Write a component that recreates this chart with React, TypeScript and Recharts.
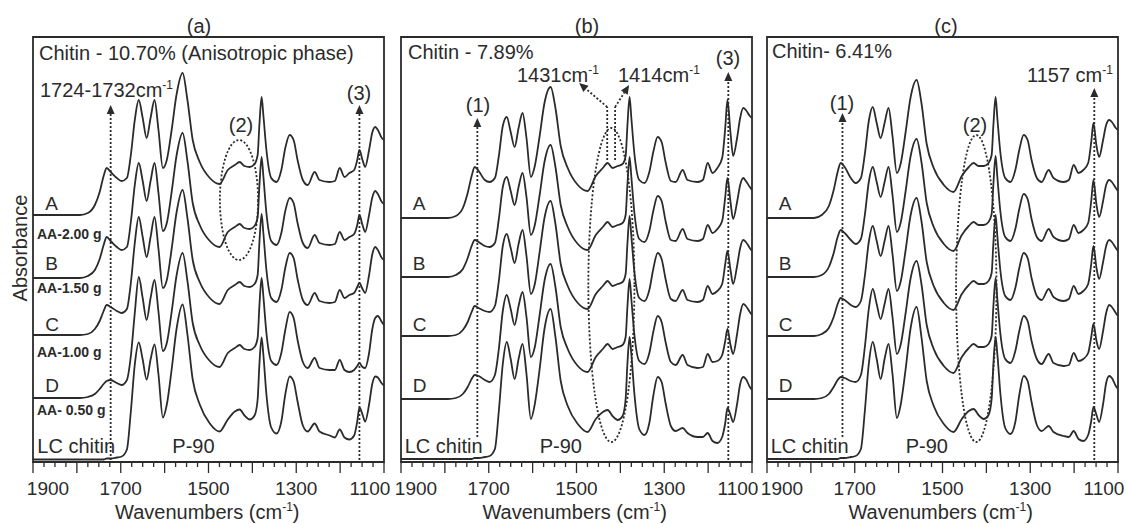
import { Line, LineChart, ReferenceArea, ReferenceLine, XAxis, YAxis } from "recharts"

// FTIR spectra of LC chitin films, three chitin loadings, stacked A-D + LC chitin
const WAVENUMBERS = [
  1900, 1793, 1775, 1759, 1748, 1739, 1732, 1723, 1709, 1698,
  1686, 1677, 1668, 1659, 1650, 1641, 1632, 1623, 1614, 1604,
  1595, 1584, 1573, 1559, 1548, 1536, 1520, 1497, 1475, 1456,
  1440, 1429, 1418, 1406, 1395, 1388, 1384, 1379, 1375, 1368,
  1357, 1345, 1334, 1325, 1315, 1306, 1297, 1285, 1274, 1258,
  1247, 1224, 1212, 1201, 1190, 1179, 1168, 1161, 1156, 1149,
  1143, 1134, 1127, 1120, 1114, 1105, 1100,
]

const ROW_KEYS = ["A", "B", "C", "D", "LC"]

// panel (a) chitin 10.70 %
const A_10 = [0, 0, 2, 10, 23, 39, 47, 43, 37, 34, 37, 60, 95, 115, 97, 77, 97, 115, 85, 47, 55, 85, 120, 142, 115, 75, 53, 37, 31, 45, 50, 53, 49, 48, 51, 60, 90, 118, 100, 65, 37, 33, 45, 67, 80, 75, 55, 35, 30, 43, 35, 33, 34, 47, 38, 42, 45, 55, 65, 55, 48, 65, 82, 88, 85, 77, 75]
const B_10 = [0, 0, 2, 8, 19, 33, 41, 37, 31, 28, 31, 56, 93, 115, 97, 77, 97, 115, 85, 47, 55, 86, 122, 145, 117, 75, 53, 37, 31, 46, 51, 54, 50, 49, 52, 61, 92, 121, 102, 65, 37, 33, 45, 67, 80, 75, 55, 35, 30, 43, 35, 33, 34, 46, 38, 41, 44, 53, 63, 53, 46, 63, 80, 87, 84, 76, 74]
const C_10 = [0, 0, 1, 6, 14, 24, 30, 28, 24, 22, 26, 52, 92, 118, 98, 78, 98, 118, 86, 47, 55, 86, 122, 145, 117, 75, 53, 37, 31, 45, 50, 53, 49, 48, 51, 60, 92, 121, 102, 65, 37, 33, 45, 67, 82, 77, 56, 35, 30, 42, 34, 32, 33, 45, 37, 40, 42, 48, 52, 46, 42, 60, 80, 88, 85, 77, 75]
const D_10 = [0, 0, 1, 4, 9, 14, 17, 18, 15, 13, 18, 42, 85, 121, 100, 78, 100, 118, 86, 47, 55, 86, 122, 145, 117, 75, 53, 37, 31, 45, 50, 53, 49, 48, 51, 60, 92, 120, 102, 65, 37, 33, 45, 68, 86, 80, 58, 36, 30, 40, 30, 28, 28, 38, 28, 26, 28, 32, 35, 31, 30, 45, 68, 80, 82, 76, 73]
const LC_10 = [0, 0, 0, 0, 0, 0, 1, 1, 2, 3, 10, 48, 95, 117, 100, 80, 100, 115, 85, 42, 55, 90, 130, 155, 125, 80, 55, 36, 28, 40, 48, 50, 44, 40, 44, 60, 95, 122, 105, 65, 32, 26, 38, 65, 83, 78, 58, 34, 28, 36, 28, 24, 22, 30, 22, 20, 24, 38, 52, 45, 38, 55, 75, 83, 82, 76, 74]

// panel (b) chitin 7.89 %
const A_789 = [0, 0, 2, 10, 25, 42, 51, 47, 38, 36, 40, 62, 92, 101, 86, 71, 90, 105, 80, 41, 52, 82, 115, 131, 110, 72, 50, 33, 27, 42, 50, 55, 50, 52, 54, 62, 92, 121, 100, 64, 38, 35, 46, 66, 81, 76, 56, 37, 36, 48, 38, 36, 38, 55, 45, 50, 60, 90, 118, 85, 62, 80, 100, 110, 108, 102, 100]
const B_789 = [0, 0, 2, 8, 19, 31, 37, 35, 31, 30, 34, 58, 90, 100, 86, 72, 90, 104, 80, 42, 52, 82, 115, 132, 110, 72, 50, 33, 27, 42, 50, 55, 50, 52, 54, 62, 92, 120, 100, 64, 38, 35, 46, 66, 81, 76, 56, 37, 36, 48, 38, 36, 38, 52, 44, 48, 56, 80, 99, 75, 58, 75, 92, 99, 96, 90, 87]
const C_789 = [0, 0, 1, 6, 14, 24, 30, 28, 25, 24, 30, 55, 90, 102, 88, 73, 92, 106, 80, 42, 52, 84, 118, 135, 112, 72, 50, 33, 27, 42, 50, 55, 50, 52, 54, 62, 92, 120, 100, 64, 38, 35, 46, 67, 83, 77, 57, 37, 35, 46, 36, 34, 36, 50, 42, 45, 52, 72, 85, 66, 52, 70, 88, 96, 94, 88, 85]
const D_789 = [0, 0, 1, 5, 12, 20, 24, 23, 19, 17, 24, 50, 88, 104, 90, 74, 93, 107, 82, 42, 52, 84, 118, 135, 112, 72, 50, 33, 27, 42, 50, 55, 50, 52, 54, 62, 92, 120, 100, 64, 38, 35, 46, 67, 83, 77, 57, 37, 34, 44, 34, 31, 32, 45, 37, 38, 44, 58, 70, 54, 45, 65, 85, 95, 93, 87, 84]
const LC_789 = [0, 0, 0, 0, 0, 0, 1, 1, 2, 3, 10, 48, 95, 117, 100, 80, 100, 115, 85, 40, 55, 90, 130, 150, 122, 78, 53, 35, 27, 40, 47, 49, 43, 39, 43, 60, 95, 122, 105, 65, 30, 24, 36, 63, 82, 77, 56, 33, 28, 31, 26, 22, 22, 26, 18, 16, 22, 36, 51, 44, 37, 55, 75, 82, 80, 72, 69]

// panel (c) chitin 6.41 %
const A_641 = [0, 0, 3, 12, 28, 46, 55, 51, 40, 35, 40, 64, 97, 111, 95, 80, 95, 110, 82, 45, 55, 86, 120, 138, 115, 74, 50, 33, 26, 42, 51, 55, 52, 52, 55, 63, 93, 121, 100, 65, 40, 36, 48, 68, 83, 78, 58, 40, 36, 48, 40, 36, 38, 53, 45, 48, 55, 76, 95, 72, 61, 78, 93, 98, 96, 90, 88]
const B_641 = [0, 0, 2, 10, 24, 40, 47, 44, 37, 33, 38, 62, 95, 110, 95, 80, 95, 110, 82, 45, 55, 86, 120, 138, 115, 74, 50, 33, 26, 42, 51, 55, 52, 52, 55, 63, 93, 121, 100, 65, 40, 36, 48, 68, 83, 78, 58, 40, 36, 48, 40, 36, 38, 52, 44, 47, 54, 76, 97, 72, 60, 76, 92, 97, 95, 89, 86]
const C_641 = [0, 0, 2, 8, 19, 32, 38, 36, 31, 29, 35, 60, 94, 110, 95, 80, 95, 110, 82, 45, 55, 86, 120, 138, 115, 74, 50, 33, 26, 42, 51, 55, 52, 52, 55, 63, 93, 121, 100, 65, 40, 36, 48, 68, 83, 78, 58, 40, 36, 47, 39, 35, 37, 50, 42, 45, 52, 72, 90, 68, 57, 74, 90, 96, 94, 88, 85]
const D_641 = [0, 0, 1, 5, 12, 19, 22, 21, 18, 17, 24, 52, 90, 110, 95, 80, 95, 110, 82, 45, 55, 86, 120, 138, 115, 74, 50, 33, 26, 42, 51, 55, 52, 52, 55, 63, 93, 121, 100, 65, 40, 36, 48, 68, 83, 78, 58, 40, 35, 45, 36, 33, 34, 46, 38, 40, 46, 62, 75, 58, 50, 68, 86, 94, 92, 86, 83]
const LC_641 = [0, 0, 0, 0, 0, 0, 1, 1, 2, 3, 10, 48, 95, 117, 100, 80, 100, 115, 85, 41, 55, 90, 130, 152, 122, 78, 53, 35, 27, 40, 48, 50, 44, 40, 44, 60, 95, 122, 105, 65, 31, 25, 37, 64, 83, 78, 57, 34, 28, 33, 27, 23, 22, 28, 20, 18, 24, 38, 52, 44, 37, 55, 76, 83, 81, 73, 70]

// vertical stacking of the traces (A, B, C, D, LC chitin)
const OFFSETS_10 = [247, 184, 127, 64, 2.5]
const OFFSETS_789 = [244, 185, 126, 63, 3]
const OFFSETS_641 = [244, 185, 126, 63, 3]

const TICKS = Array.from({ length: 33 }, (_, i) => 1100 + i * 25)

type Arrow = { from: [number, number]; to: [number, number]; head: boolean }
type Ellipse = { x1: number; x2: number; y1: number; y2: number }

const ARROWS_10: Arrow[] = [
  { from: [1723, 2], to: [1723, 357], head: true },
  { from: [1156, 2], to: [1156, 357], head: true },
]
const ARROWS_789: Arrow[] = [
  { from: [1726, 25], to: [1726, 344], head: true },
  { from: [1154, 2], to: [1154, 390], head: true },
  { from: [1430, 302], to: [1430, 355], head: false },
  { from: [1430, 355], to: [1494, 379], head: true },
  { from: [1412, 302], to: [1412, 355], head: false },
  { from: [1412, 355], to: [1380, 377], head: true },
]
const ARROWS_641: Arrow[] = [
  { from: [1728, 25], to: [1728, 349], head: true },
  { from: [1154, 2], to: [1154, 374], head: true },
]

const ELLIPSES_10: Ellipse[] = [{ x1: 1474, x2: 1387, y1: 202, y2: 322 }]
const ELLIPSES_789: Ellipse[] = [{ x1: 1473, x2: 1368, y1: 20, y2: 334 }]
const ELLIPSES_641: Ellipse[] = [{ x1: 1469, x2: 1377, y1: 20, y2: 327 }]

const FONT = '"Liberation Sans", Arial, Helvetica, sans-serif'
const INK = "#2b2b2b"
const Y_MAX = 425
const CHART_W = 400
const CHART_H = 524
const MARGIN = { top: 37, right: 25, bottom: 32, left: 24 }

const PANELS = [
  { id: "a", left: 33.3, series: [A_10, B_10, C_10, D_10, LC_10], offsets: OFFSETS_10, arrows: ARROWS_10, ellipses: ELLIPSES_10 },
  { id: "b", left: 400.7, series: [A_789, B_789, C_789, D_789, LC_789], offsets: OFFSETS_789, arrows: ARROWS_789, ellipses: ELLIPSES_789 },
  { id: "c", left: 766.7, series: [A_641, B_641, C_641, D_641, LC_641], offsets: OFFSETS_641, arrows: ARROWS_641, ellipses: ELLIPSES_641 },
]

function buildTable(series: number[][], offsets: number[]) {
  return WAVENUMBERS.map((wn, i) => {
    const row: Record<string, number> = { wn }
    ROW_KEYS.forEach((k, j) => {
      row[k] = offsets[j] + series[j][i]
    })
    return row
  })
}

function WnTick(props: any) {
  const { x, y, payload } = props
  const v = payload.value as number
  const long = v % 100 === 0
  const labelled = v % 200 === 100
  // end labels are pulled inwards so neighbouring panels don't collide
  let dx = 0
  if (v === 1900) dx = 15
  if (v === 1100) dx = -14
  return (
    <g>
      <line x1={x} y1={y} x2={x} y2={y + (long ? 11 : 5)} stroke={INK} strokeWidth={1.3} />
      {labelled && (
        <text x={x + dx} y={y + 33} textAnchor="middle" fontFamily={FONT} fontSize={19} fill={INK}>
          {v}
        </text>
      )}
    </g>
  )
}

function DottedArrow(props: any) {
  const { x1, y1, x2, y2, head } = props
  const ang = Math.atan2(y2 - y1, x2 - x1)
  const len = 9
  const half = 4
  const bx = head ? x2 - Math.cos(ang) * len : x2
  const by = head ? y2 - Math.sin(ang) * len : y2
  const px = -Math.sin(ang) * half
  const py = Math.cos(ang) * half
  return (
    <g>
      <line x1={x1} y1={y1} x2={bx} y2={by} stroke={INK} strokeWidth={1.8} strokeDasharray="2 2" />
      {head && <polygon points={`${x2},${y2} ${bx + px},${by + py} ${bx - px},${by - py}`} fill={INK} />}
    </g>
  )
}

function DottedEllipse(props: any) {
  const { x, y, width, height } = props
  return (
    <ellipse
      cx={x + width / 2}
      cy={y + height / 2}
      rx={Math.abs(width) / 2}
      ry={Math.abs(height) / 2}
      fill="none"
      stroke={INK}
      strokeWidth={1.8}
      strokeDasharray="2 2"
    />
  )
}

function Panel({ panel }: { panel: (typeof PANELS)[number] }) {
  const data = buildTable(panel.series, panel.offsets)
  return (
    <div style={{ position: "absolute", left: panel.left - MARGIN.left, top: 0 }}>
      <LineChart width={CHART_W} height={CHART_H} data={data} margin={MARGIN}>
        <XAxis
          type="number"
          dataKey="wn"
          domain={[1100, 1900]}
          reversed
          ticks={TICKS}
          interval={0}
          tick={(p: any) => <WnTick {...p} />}
          tickLine={false}
          tickSize={0}
          tickMargin={0}
          axisLine={false}
          height={30}
          allowDataOverflow
        />
        <YAxis type="number" domain={[0, Y_MAX]} hide allowDataOverflow />
        <ReferenceArea x1={1900} x2={1100} y1={0} y2={Y_MAX} fill="none" fillOpacity={0} stroke={INK} strokeWidth={1.8} />
        {panel.ellipses.map((e, i) => (
          <ReferenceArea key={`e${i}`} x1={e.x1} x2={e.x2} y1={e.y1} y2={e.y2} shape={(p: any) => <DottedEllipse {...p} />} />
        ))}
        {panel.arrows.map((a, i) => (
          <ReferenceLine
            key={`a${i}`}
            segment={[
              { x: a.from[0], y: a.from[1] },
              { x: a.to[0], y: a.to[1] },
            ]}
            shape={(p: any) => <DottedArrow {...p} head={a.head} />}
          />
        ))}
        {ROW_KEYS.map((k) => (
          <Line
            key={k}
            dataKey={k}
            type="monotone"
            stroke={INK}
            strokeWidth={1.8}
            dot={false}
            activeDot={false}
            isAnimationActive={false}
          />
        ))}
      </LineChart>
    </div>
  )
}

const txt = { fontFamily: FONT, fill: INK } as const

function Sup({ children }: { children: string }) {
  return (
    <tspan dy={-8} fontSize={12}>
      {children}
    </tspan>
  )
}

function Overlay() {
  const rowY = [210, 270, 331, 392]
  const rowNames = ["A", "B", "C", "D"]
  const subs = ["AA-2.00 g", "AA-1.50 g", "AA-1.00 g", "AA- 0.50 g"]
  const subY = [239, 293, 357, 415]
  return (
    <svg width={1126} height={524} style={{ position: "absolute", left: 0, top: 0, pointerEvents: "none" }}>
      <g {...txt} fontSize={20}>
        <text x={199} y={33} textAnchor="middle">(a)</text>
        <text x={587} y={33} textAnchor="middle">(b)</text>
        <text x={946} y={33} textAnchor="middle">(c)</text>

        <text transform="translate(27,248) rotate(-90)" textAnchor="middle">Absorbance</text>

        {PANELS.map((p) => (
          <text key={`t${p.id}`} x={p.left + 174} y={519} textAnchor="middle">
            Wavenumbers (cm<Sup>-1</Sup>
            <tspan dy={8}>)</tspan>
          </text>
        ))}

        {PANELS.map((p) =>
          rowNames.map((r, i) => (
            <text key={`${p.id}${r}`} x={p.left + 12} y={rowY[i]} fontSize={19}>
              {r}
            </text>
          ))
        )}
        {PANELS.map((p) => (
          <g key={`lc${p.id}`}>
            <text x={p.left + 4} y={453}>LC chitin</text>
            <text x={p.left + 139} y={453}>P-90</text>
          </g>
        ))}
        {subs.map((s, i) => (
          <text key={s} x={37} y={subY[i]} fontSize={14} fontWeight="bold">
            {s}
          </text>
        ))}

        <text x={39} y={60}>Chitin - 10.70% (Anisotropic phase)</text>
        <text x={40} y={97}>
          1724-1732cm<Sup>-1</Sup>
        </text>
        <text x={241} y={132} textAnchor="middle">(2)</text>
        <text x={359} y={100} textAnchor="middle">(3)</text>

        <text x={408} y={59}>Chitin - 7.89%</text>
        <text x={517} y={82}>
          1431cm<Sup>-1</Sup>
        </text>
        <text x={618} y={82}>
          1414cm<Sup>-1</Sup>
        </text>
        <text x={478} y={112} textAnchor="middle">(1)</text>
        <text x={728} y={65} textAnchor="middle">(3)</text>

        <text x={772} y={58}>Chitin- 6.41%</text>
        <text x={1027} y={82}>
          1157 cm<Sup>-1</Sup>
        </text>
        <text x={842} y={110} textAnchor="middle">(1)</text>
        <text x={975} y={132} textAnchor="middle">(2)</text>
      </g>
    </svg>
  )
}

export default function App() {
  return (
    <div style={{ position: "fixed", left: 0, top: 0, width: 1126, height: 524, background: "#fff", overflow: "hidden" }}>
      {PANELS.map((p) => (
        <Panel key={p.id} panel={p} />
      ))}
      <Overlay />
    </div>
  )
}
